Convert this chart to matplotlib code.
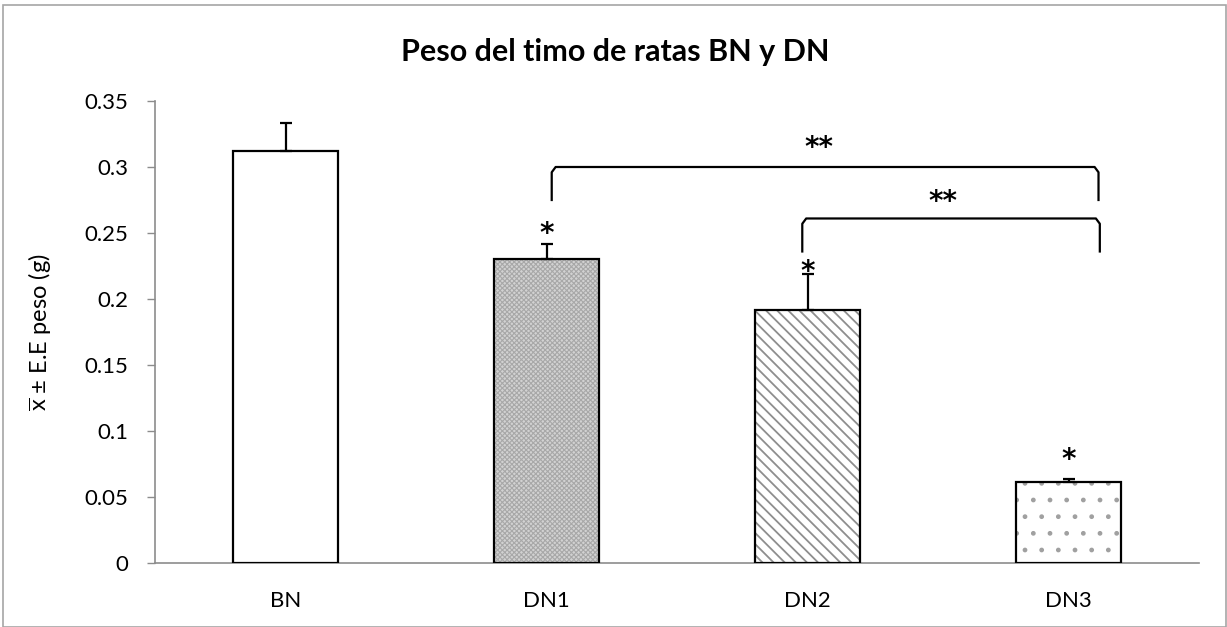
import matplotlib
matplotlib.use("Agg")
import matplotlib.pyplot as plt
from matplotlib.patches import Rectangle

plt.rcParams['font.family'] = ['Lato', 'DejaVu Sans']
plt.rcParams['mathtext.fontset'] = 'custom'
plt.rcParams['mathtext.rm'] = 'Lato'
plt.rcParams['mathtext.it'] = 'Lato:italic'

# ---- data ----
categories = ['BN', 'DN1', 'DN2', 'DN3']
means = [0.312, 0.230, 0.192, 0.061]
errors = [0.021, 0.012, 0.027, 0.003]
single_marks = ['', '*', '*', '*']
single_mark_y = [0.0, 0.2545, 0.2258, 0.0833]
# comparisons: (start category, end category, label)
comparisons = [(1, 3, '**'), (2, 3, '**')]
bracket_tops = [0.300, 0.261]
bracket_feet = [0.275, 0.236]
comparison_label_x = [2.044, 2.52]
comparison_label_y = [0.320, 0.279]
y_ticks = [0, 0.05, 0.1, 0.15, 0.2, 0.25, 0.3, 0.35]
y_ticklabels = ['0', '0.05', '0.1', '0.15', '0.2', '0.25', '0.3', '0.35']
title = 'Peso del timo de ratas BN y DN'
ylabel = r'$\overline{\mathrm{x}}$ ± E.E peso (g)'

# styles per bar
faces = ['white', '#d2d2d2', 'white', 'white']
hatches = [None, 'xxxxxxx', '\\\\\\', '.']
hatch_cols = ['white', '#a8a8a8', '#8e8e8e', '#a0a0a0']
hatch_lws = [1.0, 0.8, 1.3, 1.0]

fig = plt.figure(figsize=(12.27, 6.27), dpi=100)
ax = fig.add_axes([155/1227, 1-563/627, (1199-155)/1227, (563-101)/627])

x = list(range(len(categories)))
width = 0.40
for i in x:
    plt.rcParams['hatch.linewidth'] = hatch_lws[i]
    ax.bar(x[i], means[i], width=width, color=faces[i], hatch=hatches[i],
           edgecolor=hatch_cols[i], linewidth=0, zorder=2)
ax.bar(x, means, width=width, fill=False, edgecolor='black', linewidth=1.6, zorder=3)
ax.errorbar(x, means, yerr=[[0]*len(errors), errors], fmt='none', ecolor='black',
            elinewidth=1.6, capsize=4.5, capthick=1.6, zorder=4)

STAR_FS = 20
star_off = 0.55 * STAR_FS * 100 / 72 / 1320  # glyph centre above baseline, data units
for i, m in enumerate(single_marks):
    if m:
        ax.text(x[i], single_mark_y[i] - star_off, m, ha='center', va='baseline',
                fontsize=STAR_FS, color='black', family='DejaVu Sans',
                fontweight='bold')

# brackets
offs_l = [0.02, -0.02]
offs_r = [0.115, 0.12]
for k, (a, b, lab) in enumerate(comparisons):
    xl = a + offs_l[k]
    xr = b + offs_r[k]
    top = bracket_tops[k]
    foot = bracket_feet[k]
    ax.plot([xl, xl, xl + 0.015, xr - 0.015, xr, xr],
            [foot, top - 0.004, top, top, top - 0.004, foot],
            color='black', lw=1.6, zorder=5, solid_joinstyle='round')
for k, (a, b, lab) in enumerate(comparisons):
    ax.text(comparison_label_x[k], comparison_label_y[k] - star_off, lab,
            ha='center', va='baseline', fontsize=STAR_FS, color='black',
            family='DejaVu Sans', fontweight='bold')

ax.set_xlim(-0.5, len(categories) - 0.5)
ax.set_ylim(0, 0.35)
ax.set_xticks(x)
ax.set_xticklabels(categories, fontsize=16)
ax.set_yticks(y_ticks)
ax.set_yticklabels(y_ticklabels, fontsize=16)
ax.tick_params(axis='x', length=0, pad=20)
ax.tick_params(axis='y', length=6, width=1, color='#8c8c8c', pad=13)
for s in ['top', 'right']:
    ax.spines[s].set_visible(False)
for s in ['left', 'bottom']:
    ax.spines[s].set_color('#8c8c8c')
    ax.spines[s].set_linewidth(1.2)
ax.set_ylabel(ylabel, fontsize=17)
ax.yaxis.set_label_coords(-(155 - 40) / (1199 - 155), 0.5)
ax.yaxis.label.set_va('center')
fig.text(615/1227, 1-52/627, title, ha='center', va='center', fontsize=22,
         fontweight='bold')

fig.patches.append(Rectangle((3/1227, 0), 1223/1227, 1-5/627, transform=fig.transFigure,
                             fill=False, edgecolor='#a6a6a6', lw=1.2))
fig.savefig('out.png', dpi=100)
